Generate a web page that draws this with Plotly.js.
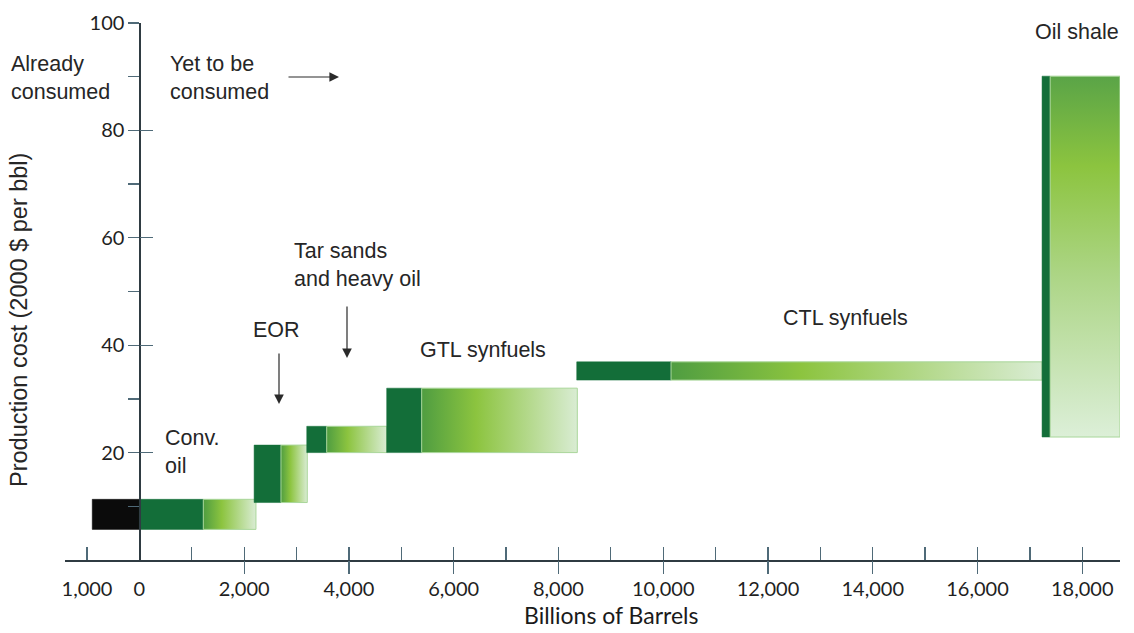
<!DOCTYPE html>
<html>
<head>
<meta charset="utf-8">
<script src="https://cdn.plot.ly/plotly-3.0.1.min.js"></script>
<style>html,body{margin:0;padding:0;background:#fff;}#chart{width:1134px;height:633px;}</style>
</head>
<body>
<div id="chart"></div>
<script>
// ---- Data ----
const resources = ['Already consumed', 'Conv. oil', 'EOR', 'Tar sands and heavy oil', 'GTL synfuels', 'CTL synfuels', 'Oil shale'];
const xStart   = [-900,    0, 2190, 3195, 4721,  8349, 17232];
const xDark    = [   0, 1220, 2703, 3576, 5389, 10149, 17387];
const xEnd     = [   0, 2225, 3205, 4721, 8360, 17232, 18719];
const costLow  = [ 5.7,  5.7, 10.7, 20.0, 20.0,  33.5,  22.9];
const costHigh = [11.3, 11.3, 21.4, 24.9, 32.0,  36.9,  90.1];

const xTickVals  = [-1000, 0, 2000, 4000, 6000, 8000, 10000, 12000, 14000, 16000, 18000];
const xTickText  = ['1,000', '0', '2,000', '4,000', '6,000', '8,000', '10,000', '12,000', '14,000', '16,000', '18,000'];
const xMinorVals = [-1000, 1000, 3000, 5000, 7000, 9000, 11000, 13000, 15000, 17000];
const yTickVals  = [10, 20, 30, 40, 50, 60, 70, 80, 90, 100];
const yTickText  = ['', '20', '', '40', '', '60', '', '80', '', '100'];

// ---- Styles ----
const DARK = '#136e39';
const BLACK = '#0b0b0b';
const H_SCALE = [[0, '#4f9d41'], [0.35, '#8cc43f'], [1, '#d9ecd3']];
const V_SCALE = [[0, '#dcefd8'], [0.45, '#acd585'], [0.75, '#8cc43f'], [1, '#5aa447']];

function rect(x0, x1, y0, y1) {
  return {x: [x0, x1, x1, x0, x0], y: [y0, y0, y1, y1, y0]};
}

const traces = [];
resources.forEach((name, i) => {
  const isConsumed = i === 0;
  const isShale = name === 'Oil shale';
  const d = rect(xStart[i], xDark[i], costLow[i], costHigh[i]);
  traces.push({
    type: 'scatter', mode: 'lines', x: d.x, y: d.y, fill: 'toself',
    fillcolor: isConsumed ? BLACK : DARK,
    line: {color: isConsumed ? BLACK : DARK, width: 0.5},
    name: name, showlegend: false, hoverinfo: 'name'
  });
  if (!isConsumed) {
    const l = rect(xDark[i], xEnd[i], costLow[i], costHigh[i]);
    traces.push({
      type: 'scatter', mode: 'lines', x: l.x, y: l.y, fill: 'toself',
      fillcolor: '#9fcf6a',
      fillgradient: isShale ? {type: 'vertical', colorscale: V_SCALE}
                            : {type: 'horizontal', colorscale: H_SCALE},
      line: {color: '#a9d69a', width: 1},
      name: name, showlegend: false, hoverinfo: 'name'
    });
  }
});

// ---- helpers for paper positions (plot area 65..1120 x 23..560 px) ----
const PX0 = 65, PX1 = 1120, PY0 = 23, PY1 = 560;
const px = v => (v - PX0) / (PX1 - PX0);
const py = v => (PY1 - v) / (PY1 - PY0);
const TXT = {family: '"Liberation Sans", Arial, sans-serif', size: 21.5, color: '#262626'};

function label(text, x, y, xanchor, extra) {
  return Object.assign({
    text: text, xref: 'paper', yref: 'paper', x: px(x), y: py(y),
    xanchor: xanchor || 'left', yanchor: 'middle', align: 'left',
    showarrow: false, font: TXT
  }, extra || {});
}
function arrow(hx, hy, ax, ay) {
  return {
    text: '', xref: 'paper', yref: 'paper', x: px(hx), y: py(hy),
    ax: ax, ay: ay, showarrow: true, arrowhead: 2, arrowsize: 1.6,
    arrowwidth: 1.2, arrowcolor: '#2a2a2a'
  };
}

const annotations = [
  label('Already<br>consumed', 9, 78),
  label('Yet to be<br>consumed', 168, 78),
  arrow(339, 77, -52, 0),
  label('Tar sands<br>and heavy oil', 292, 265),
  arrow(347, 358, 0, -53),
  label('EOR', 251, 330),
  arrow(279, 404, 0, -52),
  label('GTL synfuels', 418, 350),
  label('CTL synfuels', 845, 318, 'center'),
  label('Conv.<br>oil', 163, 452),
  label('Oil shale', 1077, 32, 'center'),
  label('Billions of Barrels', 611, 615, 'center',
        {font: {family: 'Lato, "Open Sans", sans-serif', size: 23, color: '#1a1a1a'}}),
  label('Production cost (2000 $ per bbl)', 19, 320, 'center',
        {textangle: -90, font: {family: '"Liberation Sans", Arial, sans-serif', size: 23.5, color: '#262626'}})
];

const XR = [-1420, 18720];
const YR = [0, 100];
const TICKFONT = {family: 'Lato, "Open Sans", sans-serif', size: 20, color: '#1f1f1f'};
const yPos = (0 - XR[0]) / (XR[1] - XR[0]);

// empty traces that attach the tick-only overlay axes
traces.push({type: 'scatter', x: [], y: [], xaxis: 'x2', yaxis: 'y', showlegend: false, hoverinfo: 'skip'});
traces.push({type: 'scatter', x: [], y: [], xaxis: 'x3', yaxis: 'y', showlegend: false, hoverinfo: 'skip'});
traces.push({type: 'scatter', x: [], y: [], xaxis: 'x', yaxis: 'y2', showlegend: false, hoverinfo: 'skip'});

const layout = {
  width: 1134, height: 633,
  margin: {l: PX0, r: 1134 - PX1, t: PY0, b: 633 - PY1},
  paper_bgcolor: '#ffffff', plot_bgcolor: '#ffffff',
  showlegend: false,
  xaxis: {
    range: XR, showgrid: false, zeroline: false,
    showline: true, linecolor: '#2f3b42', linewidth: 1.5,
    tickmode: 'array', tickvals: xTickVals, ticktext: xTickText,
    ticks: 'outside', ticklen: 10, tickcolor: 'rgba(0,0,0,0)',
    tickfont: TICKFONT, fixedrange: true
  },
  xaxis2: {
    overlaying: 'x', anchor: 'y', range: XR, showgrid: false, zeroline: false,
    showline: false, showticklabels: false,
    tickmode: 'array', tickvals: xTickVals.filter(v => v > 0),
    ticks: 'outside', ticklen: 13, tickwidth: 1.3, tickcolor: '#4f6a78'
  },
  xaxis3: {
    overlaying: 'x', anchor: 'y', range: XR, showgrid: false, zeroline: false,
    showline: false, showticklabels: false,
    tickmode: 'array', tickvals: xMinorVals.concat(xTickVals.filter(v => v > 0)),
    ticks: 'inside', ticklen: 13, tickwidth: 1.3, tickcolor: '#4f6a78'
  },
  yaxis: {
    range: YR, anchor: 'free', position: yPos, showgrid: false, zeroline: false,
    showline: true, linecolor: '#2f3b42', linewidth: 1.8,
    tickmode: 'array', tickvals: yTickVals, ticktext: yTickText,
    ticks: 'outside', ticklen: 11, tickwidth: 1.3, tickcolor: '#4f6a78',
    tickfont: TICKFONT, fixedrange: true
  },
  yaxis2: {
    overlaying: 'y', anchor: 'free', position: yPos, range: YR,
    showgrid: false, zeroline: false, showline: false, showticklabels: false,
    tickmode: 'array', tickvals: yTickVals.filter(v => v % 20 === 0),
    ticks: 'inside', ticklen: 13, tickwidth: 1.3, tickcolor: '#4f6a78'
  },
  annotations: annotations
};

Plotly.newPlot('chart', traces, layout, {displayModeBar: false, staticPlot: true});
</script>
</body>
</html>
